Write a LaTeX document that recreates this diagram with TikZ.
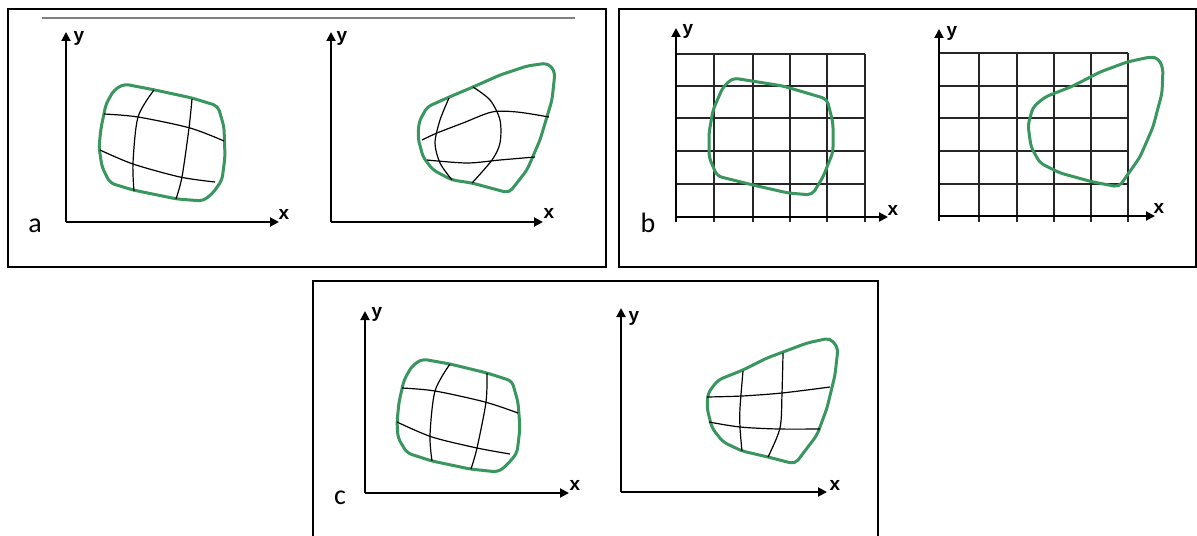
\documentclass[tikz,border=0pt]{standalone}
\usepackage{fontspec}
\setmainfont{Carlito}
\newfontfamily\axfam{Liberation Sans}
\usetikzlibrary{arrows.meta}
\definecolor{blobgreen}{RGB}{58,150,95}
\tikzset{
  frame/.style={line width=1pt,black},
  axisline/.style={line width=1pt,-{Triangle[length=4.5pt,width=4.5pt]}},
  blob/.style={line width=1.5pt,blobgreen,rounded corners=2.5pt,line join=round},
  warp/.style={line width=0.6pt,black},
  gridline/.style={line width=0.6pt,black!85},
  axlabel/.style={font=\axfam\bfseries\fontsize{9.5}{11}\selectfont,inner sep=0pt},
  panellabel/.style={font=\fontsize{14}{16}\selectfont,inner sep=0pt}
}
\begin{document}
\begin{tikzpicture}[x=0.5pt,y=-0.5pt]
\useasboundingbox (0,0) rectangle (1197,535);
\fill[white] (0,0) rectangle (1197,535);
% frames
\draw[frame] (8,9) rectangle (606,267);
\draw[frame] (619,9) rectangle (1196,267);
\draw[frame] (313,545) -- (313,281) -- (878,281) -- (878,545);
\draw[gray,line width=0.6pt] (42,18) -- (575,18);

% ---------- panel a, left ----------
\coordinate (aLo) at (66,222); \coordinate (aLy) at (66,32); \coordinate (aLx) at (279,222);
\draw[axisline] (aLo) -- (aLy);
\draw[axisline] (aLo) -- (aLx);
\node[axlabel] (aLyl) at (79,38) {y};
\node[axlabel] (aLxl) at (284,214) {x};
\node[panellabel] (la) at (35,226) {a};
\draw[blob] (124,84) -- (155,90) -- (192,98) -- (218,106) -- (224,127) -- (225,157) -- (222,180) -- (213,193) -- (203,201) -- (177,199) -- (133,190) -- (110,183) -- (102,167) -- (99,147) -- (101,128) -- (106,104) -- (114,90) -- cycle;
\draw[warp] plot[smooth] coordinates {(104,114) (138,117) (190,128) (224,141)};
\draw[warp] plot[smooth] coordinates {(100,150) (133,164) (180,177) (215,182)};
\draw[warp] plot[smooth] coordinates {(154,90) (138,117) (133,163) (134,191)};
\draw[warp] plot[smooth] coordinates {(192,99) (189,128) (182,177) (176,199)};

% ---------- panel a, right ----------
\coordinate (aRo) at (331,222); \coordinate (aRy) at (331,32); \coordinate (aRx) at (543,222);
\draw[axisline] (aRo) -- (aRy);
\draw[axisline] (aRo) -- (aRx);
\node[axlabel] (aRyl) at (342,38) {y};
\node[axlabel] (aRxl) at (549,213) {x};
\draw[blob] (548,63) -- (555,72) -- (552,100) -- (540,140) -- (527,170) -- (509,193) -- (472,183) -- (452,180) -- (433,170) -- (423,157) -- (418,138) -- (419,122) -- (427,107) -- (447,98) -- (473,87) -- (500,75) -- (527,66) -- cycle;
\draw[warp] plot[smooth] coordinates {(422,140) (437,133) (463,123) (492,112) (517,112) (549,117)};
\draw[warp] plot[smooth] coordinates {(427,160) (467,163) (500,160) (535,157)};
\draw[warp] plot[smooth] coordinates {(449,98) (440,120) (435,143) (440,163) (452,180)};
\draw[warp] plot[smooth] coordinates {(473,87) (490,100) (500,120) (500,143) (492,160) (472,183)};

% ---------- panel b, left ----------
\foreach \gx in {714,753,790,827,865} \draw[gridline] (\gx,54) -- (\gx,222);
\foreach \gy in {54,86,118,151,184} \draw[gridline] (676,\gy) -- (865,\gy);
\coordinate (bLo) at (676,217); \coordinate (bLy) at (676,28); \coordinate (bLx) at (888,217);
\coordinate (bLb) at (676,222);
\draw[axisline] (bLb) -- (bLy);
\draw[axisline] (bLo) -- (bLx);
\node[axlabel] (bLyl) at (688,31) {y};
\node[axlabel] (bLxl) at (893,210) {x};
\node[panellabel] (lb) at (648,223) {b};
\draw[blob] (733,78) -- (783,86) -- (827,99) -- (833,123) -- (833,152) -- (823,177) -- (812,195) -- (788,193) -- (753,185) -- (717,176) -- (709,157) -- (709,133) -- (713,110) -- (723,87) -- cycle;

% ---------- panel b, right ----------
\foreach \gx in {979,1017,1054,1091,1128} \draw[gridline] (\gx,53) -- (\gx,222);
\foreach \gy in {53,86,118,151,184} \draw[gridline] (939,\gy) -- (1128,\gy);
\coordinate (bRo) at (939,216); \coordinate (bRy) at (939,29); \coordinate (bRx) at (1155,216);
\coordinate (bRb) at (939,221);
\draw[axisline] (bRb) -- (bRy);
\draw[axisline] (bRo) -- (bRx);
\node[axlabel] (bRyl) at (952,33) {y};
\node[axlabel] (bRxl) at (1159,208) {x};
\draw[blob] (1158,58) -- (1163,68) -- (1162,93) -- (1153,127) -- (1140,157) -- (1119,187) -- (1093,182) -- (1060,173) -- (1040,163) -- (1031,147) -- (1028,125) -- (1033,107) -- (1045,97) -- (1073,86) -- (1100,72) -- (1127,62) -- (1150,57) -- cycle;

% ---------- panel c, left ----------
\coordinate (cLo) at (365,493); \coordinate (cLy) at (365,311); \coordinate (cLx) at (569,493);
\draw[axisline] (cLo) -- (cLy);
\draw[axisline] (cLo) -- (cLx);
\node[axlabel] (cLyl) at (377,314) {y};
\node[axlabel] (cLxl) at (575,485) {x};
\node[panellabel] (lc) at (340,498) {c};
\draw[blob] (422,359) -- (450,364) -- (487,373) -- (512,381) -- (518,402) -- (520,428) -- (517,453) -- (507,465) -- (498,472) -- (470,469) -- (432,461) -- (407,453) -- (398,438) -- (397,422) -- (399,402) -- (404,380) -- (412,366) -- cycle;
\draw[warp] plot[smooth] coordinates {(402,388) (435,391) (485,402) (518,413)};
\draw[warp] plot[smooth] coordinates {(397,422) (432,437) (477,448) (510,454)};
\draw[warp] plot[smooth] coordinates {(450,364) (435,391) (430,435) (432,461)};
\draw[warp] plot[smooth] coordinates {(487,373) (486,402) (477,448) (471,469)};

% ---------- panel c, right ----------
\coordinate (cRo) at (621,492); \coordinate (cRy) at (621,308); \coordinate (cRx) at (827,492);
\draw[axisline] (cRo) -- (cRy);
\draw[axisline] (cRo) -- (cRx);
\node[axlabel] (cRyl) at (634,318) {y};
\node[axlabel] (cRxl) at (835,485) {x};
\draw[blob] (830,338) -- (838,348) -- (835,375) -- (827,408) -- (817,435) -- (795,464) -- (768,457) -- (742,451) -- (723,442) -- (712,428) -- (707,408) -- (708,393) -- (718,380) -- (743,370) -- (767,358) -- (783,352) -- (807,343) -- cycle;
\draw[warp] plot[smooth] coordinates {(707,397) (742,396) (782,393) (830,387)};
\draw[warp] plot[smooth] coordinates {(709,422) (740,427) (778,429) (820,429)};
\draw[warp] plot[smooth] coordinates {(743,371) (740,408) (740,428) (742,451)};
\draw[warp] plot[smooth] coordinates {(783,353) (782,393) (780,428) (768,457)};
\end{tikzpicture}
\end{document}
